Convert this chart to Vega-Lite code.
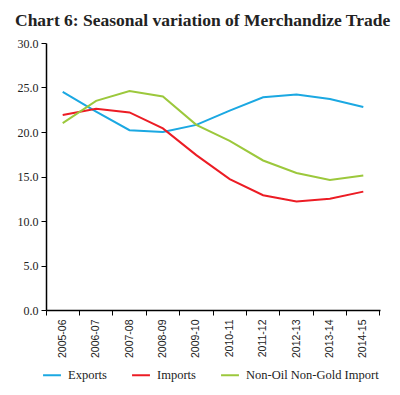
{
  "$schema": "https://vega.github.io/schema/vega-lite/v6.json",
  "width": 334,
  "height": 267,
  "autosize": {"type": "none"},
  "padding": {"left": 46, "top": 43, "right": 20, "bottom": 85},
  "background": "white",
  "title": {
    "text": "Chart 6: Seasonal variation of Merchandize Trade",
    "anchor": "start",
    "frame": "group",
    "dx": -31,
    "offset": 8,
    "font": "Liberation Serif",
    "fontSize": 17.5,
    "fontWeight": "bold",
    "color": "#222"
  },
  "data": {
    "values": [
      {"year": "2005-06", "series": "Exports", "value": 24.5},
      {"year": "2006-07", "series": "Exports", "value": 22.3},
      {"year": "2007-08", "series": "Exports", "value": 20.2},
      {"year": "2008-09", "series": "Exports", "value": 20.0},
      {"year": "2009-10", "series": "Exports", "value": 20.8},
      {"year": "2010-11", "series": "Exports", "value": 22.4},
      {"year": "2011-12", "series": "Exports", "value": 23.9},
      {"year": "2012-13", "series": "Exports", "value": 24.2},
      {"year": "2013-14", "series": "Exports", "value": 23.7},
      {"year": "2014-15", "series": "Exports", "value": 22.8},
      {"year": "2005-06", "series": "Imports", "value": 21.9},
      {"year": "2006-07", "series": "Imports", "value": 22.6},
      {"year": "2007-08", "series": "Imports", "value": 22.2},
      {"year": "2008-09", "series": "Imports", "value": 20.4},
      {"year": "2009-10", "series": "Imports", "value": 17.4},
      {"year": "2010-11", "series": "Imports", "value": 14.7},
      {"year": "2011-12", "series": "Imports", "value": 12.9},
      {"year": "2012-13", "series": "Imports", "value": 12.2},
      {"year": "2013-14", "series": "Imports", "value": 12.5},
      {"year": "2014-15", "series": "Imports", "value": 13.3},
      {"year": "2005-06", "series": "Non-Oil Non-Gold Import", "value": 21.0},
      {"year": "2006-07", "series": "Non-Oil Non-Gold Import", "value": 23.5},
      {"year": "2007-08", "series": "Non-Oil Non-Gold Import", "value": 24.6},
      {"year": "2008-09", "series": "Non-Oil Non-Gold Import", "value": 24.0},
      {"year": "2009-10", "series": "Non-Oil Non-Gold Import", "value": 20.8},
      {"year": "2010-11", "series": "Non-Oil Non-Gold Import", "value": 19.0},
      {"year": "2011-12", "series": "Non-Oil Non-Gold Import", "value": 16.8},
      {"year": "2012-13", "series": "Non-Oil Non-Gold Import", "value": 15.4},
      {"year": "2013-14", "series": "Non-Oil Non-Gold Import", "value": 14.6},
      {"year": "2014-15", "series": "Non-Oil Non-Gold Import", "value": 15.1}
    ]
  },
  "mark": {"type": "line", "strokeWidth": 2},
  "encoding": {
    "x": {
      "field": "year",
      "type": "ordinal",
      "scale": {"type": "band", "paddingInner": 0, "paddingOuter": 0},
      "axis": {
        "title": null,
        "labelAngle": -90,
        "labelAlign": "right",
        "labelBaseline": "middle",
        "bandPosition": 1,
        "tickExtra": true,
        "labelOffset": 0,
        "labelFont": "Liberation Sans",
        "labelFontSize": 10.5,
        "labelColor": "#222",
        "labelPadding": 4,
        "domainColor": "#000",
        "domainWidth": 1.5,
        "tickColor": "#000",
        "tickSize": 5,
        "grid": false
      }
    },
    "y": {
      "field": "value",
      "type": "quantitative",
      "scale": {"domain": [0, 30], "nice": false},
      "axis": {
        "title": null,
        "values": [0, 5, 10, 15, 20, 25, 30],
        "format": ".1f",
        "grid": false,
        "labelFont": "Liberation Serif",
        "labelFontSize": 12,
        "labelColor": "#222",
        "labelPadding": 3,
        "domainColor": "#000",
        "domainWidth": 1.5,
        "tickColor": "#000",
        "tickSize": 5
      }
    },
    "color": {
      "field": "series",
      "type": "nominal",
      "scale": {
        "domain": ["Exports", "Imports", "Non-Oil Non-Gold Import"],
        "range": ["#1ba8e2", "#ec1c24", "#9cc83c"]
      },
      "legend": {
        "title": null,
        "orient": "none",
        "direction": "horizontal",
        "legendX": -4,
        "legendY": 322,
        "symbolType": "stroke",
        "symbolStrokeWidth": 2,
        "symbolSize": 320,
        "labelFont": "Liberation Serif",
        "labelFontSize": 12.5,
        "labelColor": "#222",
        "columnPadding": 21,
        "labelOffset": 6
      }
    }
  },
  "config": {
    "view": {"stroke": null}
  }
}
